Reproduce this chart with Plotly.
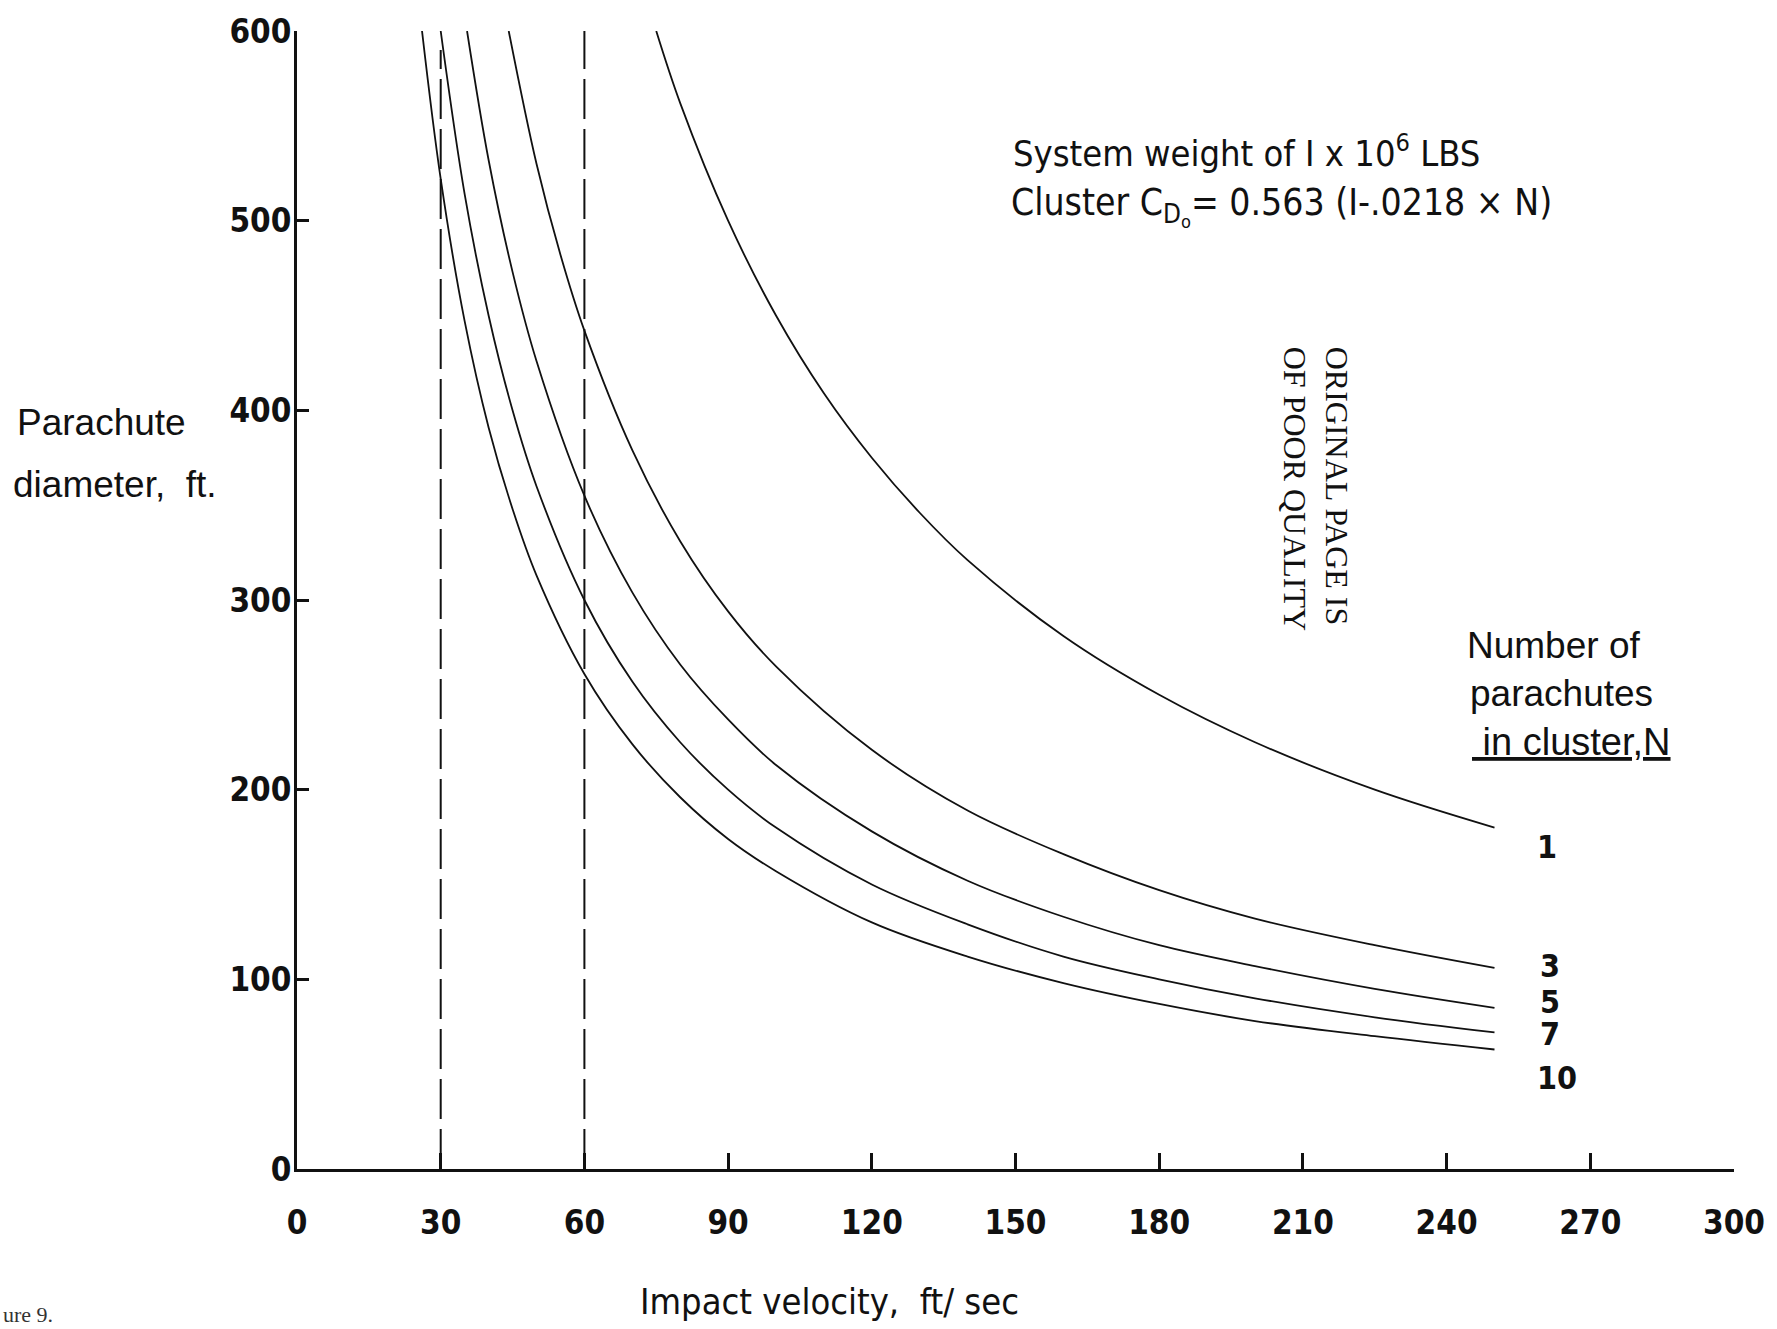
import plotly.graph_objects as go

# ---- data ----
velocity_n1 = [75, 80, 90, 100, 110, 120, 130, 140, 160, 180, 200, 225, 250]
diameter_n1 = [600, 562, 500, 450, 409, 375, 346, 321, 281, 250, 225, 200, 180]

velocity_n3 = [44.2, 50, 55, 60, 70, 80, 90, 100, 120, 140, 160, 180, 200, 225, 250]
diameter_n3 = [600, 530, 482, 442, 379, 331, 294, 265, 221, 189, 166, 147, 132, 118, 106]

velocity_n5 = [35.5, 40, 45, 50, 60, 70, 80, 90, 100, 120, 140, 160, 180, 200, 225, 250]
diameter_n5 = [600, 532, 473, 426, 355, 304, 266, 237, 213, 178, 152, 133, 118, 107, 95, 85]

velocity_n7 = [30, 35, 40, 45, 50, 60, 70, 80, 90, 100, 120, 140, 160, 180, 200, 225, 250]
diameter_n7 = [600, 514, 450, 400, 360, 300, 257, 225, 200, 180, 150, 129, 112, 100, 90, 80, 72]

velocity_n10 = [26.1, 30, 35, 40, 45, 50, 60, 70, 80, 90, 100, 120, 140, 160, 180, 200, 225, 250]
diameter_n10 = [600, 522, 447, 391, 348, 313, 261, 224, 196, 174, 157, 130, 112, 98, 87, 78, 70, 63]

dashed_velocity = [30, 60]
dashed_top = [590, 600]

curve_labels = ["1", "3", "5", "7", "10"]
label_velocity = [261, 261.5, 261.5, 261.5, 263]
label_diameter = [170, 107, 88, 71, 48]

x_ticks = [0, 30, 60, 90, 120, 150, 180, 210, 240, 270, 300]
y_ticks = [0, 100, 200, 300, 400, 500, 600]

# ---- layout geometry (pixels) ----
W, H = 1777, 1329
L, R, T, B = 297, 1739, 19, 1169

def px(x):
    return (x - L) / (R - L)

def py(y):
    return (B - y) / (B - T)

NARROW = "DejaVu Sans Condensed, Liberation Sans Narrow, Arial Narrow, sans-serif"
SANS = "Liberation Sans, Arial, sans-serif"
SERIF = "Liberation Serif, DejaVu Serif, serif"
INK = "#111111"

fig = go.Figure()

curves = [
    (velocity_n1, diameter_n1),
    (velocity_n3, diameter_n3),
    (velocity_n5, diameter_n5),
    (velocity_n7, diameter_n7),
    (velocity_n10, diameter_n10),
]
for (vx, dy), name in zip(curves, curve_labels):
    fig.add_trace(go.Scatter(
        x=vx, y=dy, mode="lines", name="N=" + name,
        line=dict(color=INK, width=1.8, shape="spline", smoothing=1.0),
        showlegend=False, hoverinfo="skip"))

for v, top in zip(dashed_velocity, dashed_top):
    fig.add_trace(go.Scatter(
        x=[v, v], y=[0, top], mode="lines",
        line=dict(color=INK, width=2, dash="40px,10px"),
        showlegend=False, hoverinfo="skip"))

for txt, v, d in zip(curve_labels, label_velocity, label_diameter):
    fig.add_annotation(x=v, y=d, xref="x", yref="y", text=txt, showarrow=False,
                       xanchor="center", yanchor="middle",
                       font=dict(family=NARROW, size=32, color=INK, weight="bold"))

annots = [
    dict(x=px(14), y=py(415), text="Parachute", font=dict(family=SANS, size=37)),
    dict(x=px(10), y=py(477), text="diameter,  ft.", font=dict(family=SANS, size=37)),
    dict(x=px(1469), y=py(640), text="Number of", font=dict(family=SANS, size=37)),
    dict(x=px(1472), y=py(688), text="parachutes", font=dict(family=SANS, size=37)),
    dict(x=px(1474), y=py(737), text="<u> in cluster,N</u>", font=dict(family=SANS, size=38)),
    dict(x=px(1013), y=py(140), text="System weight of I x 10<sup>6</sup> LBS",
         font=dict(family=NARROW, size=36)),
    dict(x=px(1011), y=py(196), text="Cluster C<sub>D<sub>o</sub></sub>= 0.563 (I-.0218 \u00d7 N)",
         font=dict(family=NARROW, size=37)),
]
for a in annots:
    a["font"]["color"] = INK
    fig.add_annotation(xref="paper", yref="paper", showarrow=False,
                       xanchor="left", yanchor="middle", align="left", **a)

fig.add_annotation(xref="paper", yref="paper", x=px(831), y=py(1303),
                   text="Impact velocity,  ft/ sec", showarrow=False,
                   xanchor="center", yanchor="middle",
                   font=dict(family=NARROW, size=36, color=INK))

fig.add_annotation(xref="paper", yref="paper", x=px(1319), y=py(482),
                   text="ORIGINAL PAGE IS<br>OF POOR QUALITY", showarrow=False,
                   textangle=90, xanchor="center", yanchor="middle", align="left",
                   font=dict(family=SERIF, size=32, color=INK))

fig.add_annotation(xref="paper", yref="paper", x=px(0), y=py(1316),
                   text="ure 9.", showarrow=False, xanchor="left", yanchor="middle",
                   font=dict(family=SERIF, size=22, color="#333333"))

fig.update_layout(
    width=W, height=H,
    margin=dict(l=L, r=W - R, t=T, b=H - B, pad=0),
    paper_bgcolor="white", plot_bgcolor="white",
    showlegend=False,
    xaxis=dict(range=[0, 300], tickvals=x_ticks, ticktext=[str(t) for t in x_ticks],
               showgrid=False, zeroline=False, showline=True, linecolor=INK,
               linewidth=3, ticks="inside", ticklen=16, tickwidth=2.5, tickcolor=INK,
               ticklabelstandoff=22,
               tickfont=dict(family=NARROW, size=33, color=INK, weight="bold")),
    yaxis=dict(range=[0, 600], tickvals=y_ticks, ticktext=[str(t) for t in y_ticks],
               showgrid=False, zeroline=False, showline=True, linecolor=INK,
               linewidth=3, ticks="inside", ticklen=12, tickwidth=2.5, tickcolor=INK,
               ticklabelstandoff=-4, ticklabeloverflow="allow",
               tickfont=dict(family=NARROW, size=33, color=INK, weight="bold")),
)

fig.write_html("out.html")
